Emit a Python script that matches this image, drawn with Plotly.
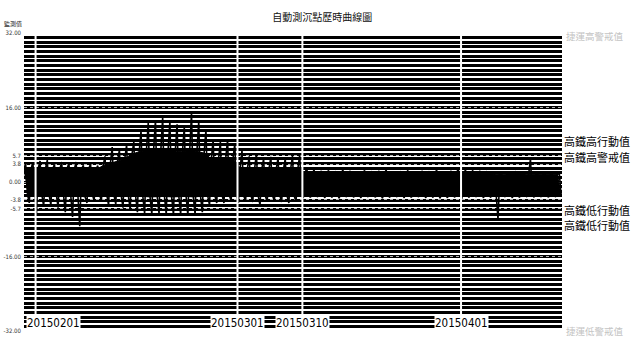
import pandas as pd
import plotly.graph_objects as go

# ---------------- data ----------------
days = pd.date_range("2015-01-30", "2015-04-14", freq="D")

# daily spike maximum (15:00)
peak = [4.0, 4.2,
        4.5, 4.7, 3.8, 4.3, 4.0, 4.3, 3.6, 3.9, 3.5, 5.5,
        7.5, 6.9, 8.0, 8.6, 11.0, 12.7, 13.3, 13.9, 13.0, 12.4,
        11.8, 14.8, 13.0, 11.2, 9.0, 8.6, 9.0, 8.2,
        6.8, 5.5, 6.2, 5.0, 5.4, 5.2, 5.0, 5.6, 5.8,
        3.0, 2.6, 2.4, 2.5, 2.3, 2.6, 2.4, 2.2, 2.5, 2.3,
        2.4, 2.6, 2.2, 2.3, 2.5, 2.1, 2.4, 2.3, 2.6, 2.2, 2.4, 2.8,
        2.6, 2.5, 2.4, 2.3, 2.2, 2.0, 2.1, 2.3, 2.1, 5.0, 1.9, 2.1, 2.0, 1.9]
# daily spike minimum (03:00)
trough = [-4.0, -4.5,
          -7.0, -5.3, -5.0, -5.5, -6.5, -7.5, -9.5, -4.5, -4.0, -4.2,
          -5.0, -4.8, -5.5, -6.0, -6.5, -6.8, -7.0, -6.8, -7.0, -7.2,
          -7.0, -7.3, -7.0, -6.5, -5.0, -4.5, -4.5, -4.0,
          -4.5, -4.0, -4.3, -5.0, -4.2, -4.0, -4.3, -4.5, -4.2,
          -3.4, -3.3, -3.2, -3.4, -3.3, -3.5, -3.2, -3.3, -3.4, -3.2,
          -3.3, -3.5, -3.3, -3.2, -3.4, -3.3, -3.2, -3.4, -3.3, -3.5, -3.4, -3.3,
          -3.6, -3.3, -3.2, -3.4, -3.3, -8.0, -3.2, -3.4, -3.3, -3.2, -3.3, -3.2, -3.3, -3.2]
# secondary daily high (09:00)
core_high = [2.8, 2.8,
             3.0, 2.9, 2.8, 2.8, 2.9, 2.7, 2.8, 2.8, 2.7, 3.5,
             4.0, 4.5, 5.0, 6.0, 6.5, 6.8, 7.0, 6.9, 6.8, 6.6,
             6.5, 6.8, 6.6, 6.2, 5.0, 5.0, 5.2, 5.0,
             3.0, 2.9, 2.8, 2.8, 2.9, 2.8, 2.7, 2.8, 2.9,
             2.0, 1.9, 1.8, 1.9, 1.8, 1.9, 1.8, 1.7, 1.9, 1.8,
             1.8, 1.9, 1.7, 1.8, 1.9, 1.7, 1.8, 1.8, 1.9, 1.7, 1.8, 2.0,
             1.9, 1.8, 1.8, 1.7, 1.7, 1.6, 1.7, 1.7, 1.8, 1.6, 1.6, 1.7, 1.6, 1.6]
# secondary daily low (21:00)
core_low = [-2.6, -2.6,
            -2.8, -2.7, -2.6, -2.7, -2.8, -3.0, -3.2, -2.7, -2.6, -2.7,
            -2.8, -2.9, -3.0, -3.0, -3.1, -3.2, -3.2, -3.1, -3.2, -3.2,
            -3.1, -3.2, -3.1, -3.0, -3.0, -2.9, -2.9, -2.8,
            -3.0, -2.9, -3.0, -3.1, -3.0, -2.9, -3.0, -3.1, -3.0,
            -2.9, -2.8, -2.8, -2.9, -2.8, -2.9, -2.8, -2.8, -2.9, -2.8,
            -2.8, -2.9, -2.8, -2.8, -2.9, -2.8, -2.8, -2.9, -2.8, -2.9, -2.8, -2.8,
            -2.9, -2.8, -2.8, -2.9, -2.8, -2.8, -2.8, -2.9, -2.8, -2.8, -2.8, -2.8, -2.8, -2.8]

ytick_vals = [32, 16, 5.7, 3.8, 0, -3.8, -5.7, -16, -32]
ytick_text = ["32.00", "16.00", "5.7", "3.8", "0.00", "-3.8", "-5.7", "-16.00", "-32.00"]

marker_dates = ["2015-02-01", "2015-03-01", "2015-03-10", "2015-04-01"]
marker_text = ["20150201", "20150301", "20150310", "20150401"]

right_labels = [(5.7, "高鐵高行動值"), (3.8, "高鐵高警戒值"),
                (-3.8, "高鐵低行動值"), (-5.7, "高鐵低行動值")]
mrt_labels = [(32, "捷運高警戒值"), (-32, "捷運低警戒值")]

x_range = ["2015-01-30 09:30", "2015-04-15 00:00"]

# ---------------- build series ----------------
xs, ys = [], []
for d, tr, ch, pk, cl in zip(days, trough, core_high, peak, core_low):
    for hh, v in ((3, tr), (9, ch), (15, pk), (21, cl)):
        xs.append(d + pd.Timedelta(hours=hh))
        ys.append(v)
x_hi = [d + pd.Timedelta(hours=9) for d in days]
x_lo = [d + pd.Timedelta(hours=21) for d in days]

fig = go.Figure()
# daily core band
fig.add_trace(go.Scatter(x=x_hi + x_lo[::-1], y=core_high + core_low[::-1], mode="lines",
                         fill="toself", fillcolor="black", line=dict(color="black", width=1),
                         hoverinfo="skip", showlegend=False))
# full record
fig.add_trace(go.Scatter(x=xs, y=ys, mode="lines",
                         line=dict(color="black", width=1.6), hoverinfo="skip",
                         showlegend=False))

cjk = "Noto Sans CJK TC, Noto Sans CJK SC, sans-serif"
narrow = "Liberation Sans Narrow, DejaVu Sans Condensed, Arial Narrow, Liberation Sans, sans-serif"

shapes = []
for d in marker_dates:
    shapes.append(dict(type="line", xref="x", yref="paper", x0=d, x1=d, y0=0, y1=1,
                       line=dict(color="white", width=2), layer="above"))

annotations = []
for i, (d, t) in enumerate(zip(marker_dates, marker_text)):
    annotations.append(dict(x=x_range[0] if i == 0 else d, xref="x", y=0, yref="paper",
                            text=t, showarrow=False, xanchor="left" if i == 0 else "center",
                            xshift=2 if i == 0 else 0,
                            yanchor="bottom", bgcolor="white", borderpad=0,
                            font=dict(family=narrow, size=11.5, color="black")))
label_shift = {5.7: 4, 3.8: -3, -3.8: 0, -5.7: -6}
for v, t in right_labels:
    annotations.append(dict(x=1, xref="paper", y=v, yref="y", text=t, showarrow=False,
                            xanchor="left", yanchor="bottom" if v > 0 else "top",
                            yshift=label_shift[v],
                            font=dict(family=cjk, size=11, color="black")))
for v, t in mrt_labels:
    annotations.append(dict(x=1, xref="paper", y=v, yref="y", text=t, showarrow=False,
                            xanchor="left", yanchor="middle", xshift=2,
                            yshift=-3 if v > 0 else 0,
                            font=dict(family=cjk, size=9.5, color="#c4c4c4")))
annotations.append(dict(x=0, xref="paper", y=1, yref="paper", text="監測值",
                        showarrow=False, xanchor="right", yanchor="bottom", yshift=3,
                        font=dict(family=cjk, size=6, color="#222")))

fig.update_layout(
    width=632, height=340,
    margin=dict(l=24, r=70, t=33, b=9),
    paper_bgcolor="white", plot_bgcolor="white",
    title=dict(text="自動測沉點歷時曲線圖", x=0.51, xanchor="center", y=0.95, yanchor="middle",
               font=dict(family=cjk, size=10, color="#111")),
    xaxis=dict(type="date", range=x_range, showgrid=False, showticklabels=False,
               zeroline=False, showline=False, ticks="", automargin=False),
    # striped background grid (one line per unit)
    yaxis=dict(range=[-32, 32], tickmode="linear", tick0=0, dtick=1, showticklabels=False,
               showgrid=True, gridcolor="black", gridwidth=2.8,
               zeroline=False, showline=False, ticks="", automargin=False),
    # labelled threshold axis
    yaxis2=dict(range=[-32, 32], overlaying="y", side="left", anchor="x",
                tickmode="array", tickvals=ytick_vals, ticktext=ytick_text,
                showgrid=True, gridcolor="#b5b5b5", griddash="dot", gridwidth=1,
                zeroline=False, showline=False, ticks="", automargin=False,
                ticklabelstandoff=2,
                tickfont=dict(family=narrow, size=6, color="#333")),
    shapes=shapes, annotations=annotations,
)
# an invisible trace so yaxis2 is drawn
fig.add_trace(go.Scatter(x=[x_range[0]], y=[0], yaxis="y2", mode="markers",
                         marker=dict(opacity=0), hoverinfo="skip", showlegend=False))

fig.write_html("out.html", config={"displayModeBar": False},
               post_script="document.body.style.margin='0px';")
